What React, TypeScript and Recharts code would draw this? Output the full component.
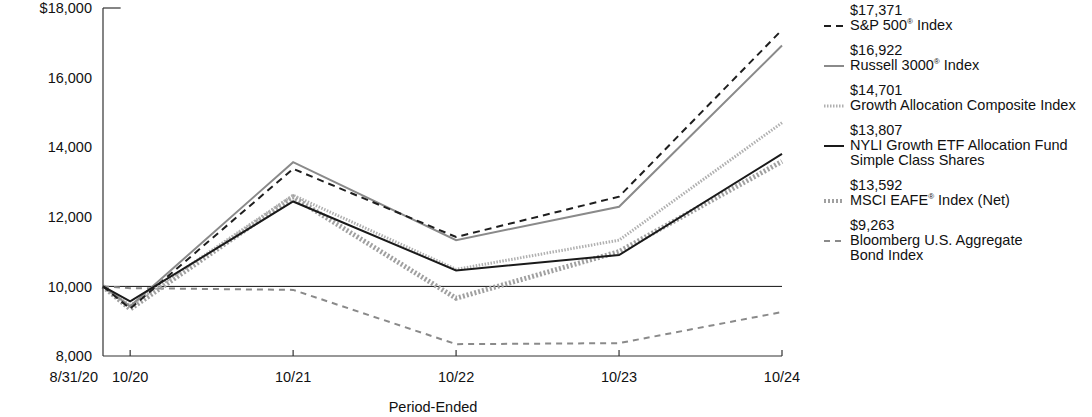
import React from 'react';
import { LineChart, Line, XAxis, YAxis, ReferenceLine } from 'recharts';

const months = [0, 2, 14, 26, 38, 50];
const periodLabels = ['8/31/20', '10/20', '10/21', '10/22', '10/23', '10/24'];
const sp500 = [10000, 9360, 13380, 11420, 12580, 17371];
const russell3000 = [10000, 9430, 13570, 11330, 12290, 16922];
const growthComposite = [10000, 9450, 12620, 10490, 11330, 14701];
const fund = [10000, 9570, 12440, 10460, 10900, 13807];
const msciEafe = [10000, 9350, 12570, 9660, 11000, 13592];
const bloombergAgg = [10000, 9950, 9900, 8340, 8370, 9263];
const yTicks = [8000, 10000, 12000, 14000, 16000, 18000];

const data = months.map((m, i) => ({
  m,
  sp500: sp500[i],
  russell3000: russell3000[i],
  growthComposite: growthComposite[i],
  fund: fund[i],
  msciEafe: msciEafe[i],
  bloombergAgg: bloombergAgg[i],
}));

const FONT = '"Liberation Sans", Arial, Helvetica, sans-serif';
const FS = 14.5;

type Series = {
  key: string;
  name: React.ReactNode;
  color: string;
  width: number;
  dash?: string;
  values: number[];
};

const sup = (s: string) => <sup style={{ fontSize: 8, lineHeight: 0 }}>{s}</sup>;

const series: Series[] = [
  { key: 'sp500', name: <>S&amp;P 500{sup('®')} Index</>, color: '#1e1e1e', width: 2, dash: '7 5', values: sp500 },
  { key: 'russell3000', name: <>Russell 3000{sup('®')} Index</>, color: '#8a8a8a', width: 2, values: russell3000 },
  { key: 'growthComposite', name: <>Growth Allocation Composite Index</>, color: '#b0b0b0', width: 3, dash: '1.5 1.5', values: growthComposite },
  { key: 'fund', name: <>NYLI Growth ETF Allocation Fund<br />Simple Class Shares</>, color: '#1a1a1a', width: 2, values: fund },
  { key: 'msciEafe', name: <>MSCI EAFE{sup('®')} Index (Net)</>, color: '#a0a0a0', width: 5, dash: '2 2', values: msciEafe },
  { key: 'bloombergAgg', name: <>Bloomberg U.S. Aggregate<br />Bond Index</>, color: '#8a8a8a', width: 2, dash: '6 5', values: bloombergAgg },
];

const drawOrder = ['bloombergAgg', 'msciEafe', 'growthComposite', 'russell3000', 'sp500', 'fund'];

const fmt = (v: number) => v.toLocaleString('en-US');

const XTick = (props: any) => {
  const { x, y, payload } = props;
  const i = months.indexOf(payload.value);
  const first = i === 0;
  return (
    <g>
      {!first && <line x1={x} x2={x} y1={y} y2={y - 6} stroke="#333" strokeWidth={1.2} />}
      <text
        x={first ? x - 5 : x}
        y={y + 26}
        textAnchor={first ? 'end' : 'middle'}
        fontFamily={FONT}
        fontSize={FS}
        fill="#111"
      >
        {periodLabels[i]}
      </text>
    </g>
  );
};

const YTick = (props: any) => {
  const { x, y, payload } = props;
  const label = payload.value === 18000 ? '$' + fmt(payload.value) : fmt(payload.value);
  return (
    <text x={x - 11} y={y} dy="0.36em" textAnchor="end" fontFamily={FONT} fontSize={FS} fill="#111">
      {label}
    </text>
  );
};

export default function App() {
  return (
    <div style={{ position: 'absolute', left: 0, top: 0, width: 1092, height: 417, background: '#fff', fontFamily: FONT }}>
      <LineChart width={1092} height={417} data={data} margin={{ top: 8, right: 310, bottom: 21, left: 0 }}>
        <XAxis
          dataKey="m"
          type="number"
          domain={[0, 50]}
          ticks={months}
          interval={0}
          tickLine={false}
          tickSize={0}
          tickMargin={0}
          height={40}
          axisLine={{ stroke: '#333', strokeWidth: 1.2 }}
          tick={<XTick />}
        />
        <YAxis
          type="number"
          domain={[8000, 18000]}
          ticks={yTicks}
          interval={0}
          width={103}
          tickLine={false}
          tickSize={0}
          tickMargin={0}
          axisLine={{ stroke: '#333', strokeWidth: 1.2 }}
          tick={<YTick />}
        />
        <ReferenceLine y={10000} stroke="#111" strokeWidth={1} />
        <ReferenceLine
          segment={[{ x: 0, y: 18000 }, { x: 1.3, y: 18000 }]}
          stroke="#333"
          strokeWidth={1.2}
        />
        {drawOrder.map((k) => {
          const s = series.find((q) => q.key === k)!;
          return (
            <Line
              key={k}
              dataKey={k}
              type="linear"
              stroke={s.color}
              strokeWidth={s.width}
              strokeDasharray={s.dash}
              dot={false}
              activeDot={false}
              isAnimationActive={false}
            />
          );
        })}
      </LineChart>

      <div style={{ position: 'absolute', left: 823, top: 3, fontSize: FS, lineHeight: '15px', color: '#111', whiteSpace: 'nowrap' }}>
        {series.map((s) => (
          <div key={s.key} style={{ marginBottom: 10, position: 'relative', paddingLeft: 27 }}>
            <div>${fmt(s.values[s.values.length - 1])}</div>
            <svg width={22} height={8} style={{ position: 'absolute', left: 0, top: 19 }}>
              <line
                x1={1}
                x2={21}
                y1={4}
                y2={4}
                stroke={s.color}
                strokeWidth={Math.min(s.width, 4)}
                strokeDasharray={s.dash}
              />
            </svg>
            <div>{s.name}</div>
          </div>
        ))}
      </div>

      <div
        style={{
          position: 'absolute',
          left: 373,
          width: 120,
          top: 400,
          textAlign: 'center',
          fontSize: FS,
          lineHeight: '15px',
          color: '#111',
        }}
      >
        Period-Ended
      </div>
    </div>
  );
}
